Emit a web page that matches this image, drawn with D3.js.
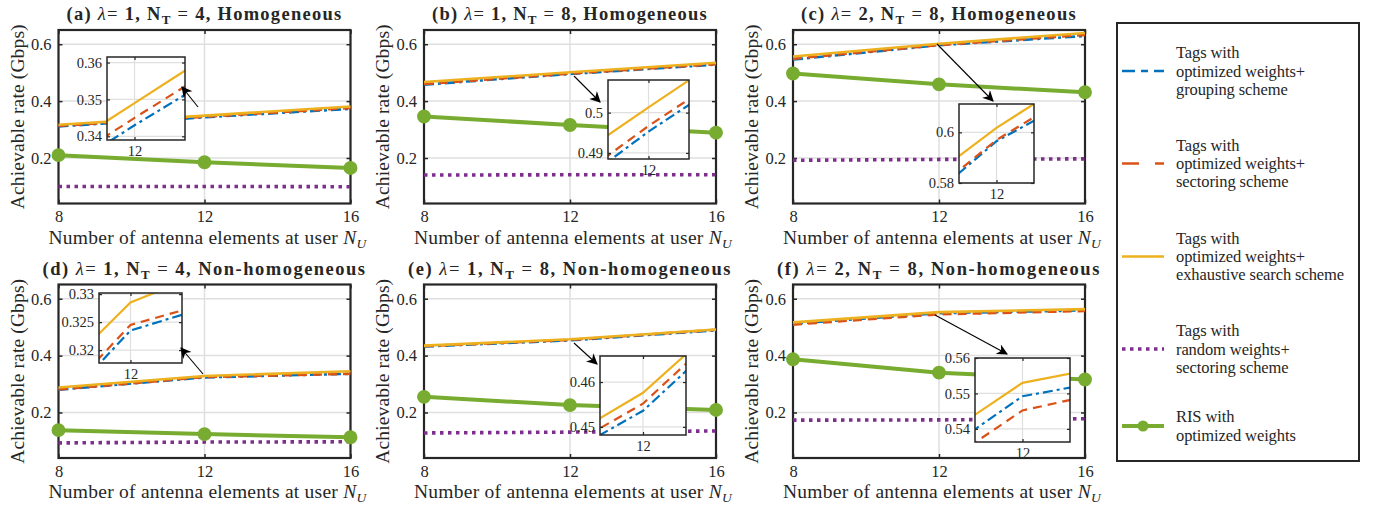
<!DOCTYPE html>
<html>
<head>
<meta charset="utf-8">
<script src="https://cdn.jsdelivr.net/npm/d3@7/dist/d3.min.js"></script>
<style>
  body { margin: 0; background: #fff; }
  svg { display: block; }
  text { font-family: "Liberation Serif", "DejaVu Serif", serif; fill: #262626; }
</style>
</head>
<body>
<div id="chart"></div>
<script>
// Valeurs (N_U = 8, 12, 16), une ligne par sous-figure (a)..(f)
const nU = [8, 12, 16];
const panelLetters = ["a", "b", "c", "d", "e", "f"];
const lambdas = [1, 1, 2, 1, 1, 2];
const nTags = [4, 8, 8, 4, 8, 8];
const scenarios = ["Homogeneous", "Homogeneous", "Homogeneous", "Non-homogeneous", "Non-homogeneous", "Non-homogeneous"];

const grouping = [
  [0.311, 0.343, 0.373],
  [0.458, 0.4953, 0.5285],
  [0.546, 0.5965, 0.629],
  [0.280, 0.3235, 0.336],
  [0.432, 0.4536, 0.489],
  [0.512, 0.5492, 0.559]
];
const sectoring = [
  [0.313, 0.345, 0.376],
  [0.460, 0.4967, 0.530],
  [0.549, 0.597, 0.633],
  [0.281, 0.3245, 0.336],
  [0.4332, 0.4552, 0.4908],
  [0.509, 0.5452, 0.557]
];
const exhaustive = [
  [0.317, 0.349, 0.381],
  [0.467, 0.5013, 0.535],
  [0.557, 0.6018, 0.6395],
  [0.288, 0.3285, 0.345],
  [0.435, 0.4576, 0.492],
  [0.517, 0.553, 0.5635]
];
const randomWeights = [
  [0.100, 0.100, 0.099],
  [0.140, 0.141, 0.141],
  [0.192, 0.195, 0.197],
  [0.093, 0.096, 0.097],
  [0.128, 0.131, 0.135],
  [0.173, 0.174, 0.178]
];
const risWeights = [
  [0.210, 0.185, 0.165],
  [0.346, 0.316, 0.289],
  [0.497, 0.459, 0.431],
  [0.138, 0.124, 0.113],
  [0.255, 0.226, 0.209],
  [0.387, 0.340, 0.316]
];

const xTicks = [8, 12, 16];
const yTicks = [0.2, 0.4, 0.6];
const yDomain = [0.04, 0.65];

// Zooms (encarts)
const insetXDomains = [[11.4, 13.1], [11.2, 12.8], [11, 13], [11.45, 12.9], [11, 13], [11, 13]];
const insetYDomains = [[0.339, 0.3615], [0.4885, 0.5081], [0.58, 0.6112], [0.3177, 0.3302], [0.4482, 0.4658], [0.5363, 0.56]];
const insetYTicks = [[0.34, 0.35, 0.36], [0.49, 0.5], [0.58, 0.6], [0.32, 0.325, 0.33], [0.45, 0.46], [0.54, 0.55, 0.56]];
const insetXTicks = [12];

const legendLabels = [
  ["Tags with", "optimized weights+", "grouping scheme"],
  ["Tags with", "optimized weights+", "sectoring scheme"],
  ["Tags with", "optimized weights+", "exhaustive search scheme"],
  ["Tags with", "random weights+", "sectoring scheme"],
  ["RIS with", "optimized weights"]
];

// Mise en page
const width = 1375;
const height = 510;
const colLeft = [58.5, 424, 793];
const rowTop = [30, 284.5];
const plotW = 292;
const plotH = 173.5;
// [x, y, largeur, hauteur] de chaque encart
const insetBoxes = [
  [107, 57, 78, 83],
  [608, 80, 81, 79],
  [959, 104, 75, 79],
  [99, 293, 83, 70],
  [600, 356, 86, 79],
  [975, 358, 95, 84]
];
// flèches : [x départ, y départ, x pointe, y pointe]
const arrows = [
  [198, 107, 182, 87],
  [574, 76, 600, 102],
  [937, 44, 993, 101],
  [203, 374, 181, 348],
  [574, 343, 597, 364],
  [935, 315, 1007, 354]
];

const series = [
  { values: grouping, color: "#0072BD", dash: "10,4,3,4", w: 2.6 },
  { values: sectoring, color: "#D95319", dash: "9,6", w: 2.6 },
  { values: exhaustive, color: "#EDB120", dash: null, w: 2.6 },
  { values: randomWeights, color: "#7E2F8E", dash: "3.5,4.5", w: 3.6 },
  { values: risWeights, color: "#77AC30", dash: null, w: 4, marker: true }
];

const axisColor = "#262626";
const gridColor = "#dfdfdf";

// Ajuste l'espacement des lettres pour obtenir la largeur voulue (police LaTeX plus large)
function fitWidth(sel, target) {
  const node = sel.node();
  const w = node.getComputedTextLength();
  const n = node.textContent.length;
  const ls = Math.max(-0.6, Math.min(2.5, (target - w) / n));
  sel.attr("letter-spacing", ls);
}

const svg = d3.select("#chart")
  .append("svg")
  .attr("width", width)
  .attr("height", height)
  .attr("font-family", "Liberation Serif, serif");

const defs = svg.append("defs");
defs.append("marker")
  .attr("id", "arrowhead")
  .attr("viewBox", "0 0 10 10")
  .attr("refX", 9)
  .attr("refY", 5)
  .attr("markerUnits", "userSpaceOnUse")
  .attr("markerWidth", 13)
  .attr("markerHeight", 11)
  .attr("orient", "auto")
  .append("path")
  .attr("d", "M0,0 L10,5 L0,10 L3,5 Z")
  .attr("fill", "#000");

panelLetters.forEach((letter, i) => {
  const col = i % 3;
  const row = Math.floor(i / 3);
  const x0 = colLeft[col];
  const y0 = rowTop[row];

  const x = d3.scaleLinear().domain([8, 16]).range([x0, x0 + plotW]);
  const y = d3.scaleLinear().domain(yDomain).range([y0 + plotH, y0]);

  const g = svg.append("g");

  // grille
  g.selectAll(".gx").data(xTicks).enter().append("line")
    .attr("x1", d => x(d)).attr("x2", d => x(d))
    .attr("y1", y0).attr("y2", y0 + plotH)
    .attr("stroke", gridColor).attr("stroke-width", 1.5);
  g.selectAll(".gy").data(yTicks).enter().append("line")
    .attr("x1", x0).attr("x2", x0 + plotW)
    .attr("y1", d => y(d)).attr("y2", d => y(d))
    .attr("stroke", gridColor).attr("stroke-width", 1.5);

  // cadre + graduations
  g.append("rect")
    .attr("x", x0).attr("y", y0).attr("width", plotW).attr("height", plotH)
    .attr("fill", "none").attr("stroke", axisColor).attr("stroke-width", 2.2);

  const axB = d3.axisBottom(x).tickValues(xTicks).tickSize(-4).tickPadding(7).tickFormat(d3.format("d"));
  const axT = d3.axisTop(x).tickValues(xTicks).tickSize(-4).tickFormat("");
  const axL = d3.axisLeft(y).tickValues(yTicks).tickSize(-4).tickPadding(7).tickFormat(d3.format(".1f"));
  const axR = d3.axisRight(y).tickValues(yTicks).tickSize(-4).tickFormat("");
  [[axB, `translate(0,${y0 + plotH})`], [axT, `translate(0,${y0})`],
   [axL, `translate(${x0},0)`], [axR, `translate(${x0 + plotW},0)`]].forEach(([ax, tr]) => {
    const a = g.append("g").attr("transform", tr).call(ax);
    a.attr("font-family", null);
    a.select(".domain").remove();
    a.selectAll("line").attr("stroke", axisColor).attr("stroke-width", 1.5);
    a.selectAll("text").attr("font-size", 16.5).attr("fill", axisColor);
  });

  // courbes
  const line = d3.line().x((d, k) => x(nU[k])).y(d => y(d));
  series.forEach(s => {
    g.append("path")
      .attr("d", line(s.values[i]))
      .attr("fill", "none")
      .attr("stroke", s.color)
      .attr("stroke-width", s.w)
      .attr("stroke-dasharray", s.dash)
      .attr("stroke-linejoin", "round");
    if (s.marker) {
      g.selectAll(".mk").data(s.values[i]).enter().append("circle")
        .attr("cx", (d, k) => x(nU[k])).attr("cy", d => y(d))
        .attr("r", 6.2)
        .attr("fill", s.color)
        .attr("stroke", s.color).attr("stroke-width", 1.5);
    }
  });

  // titre
  const title = g.append("text")
    .attr("x", x0 + plotW / 2)
    .attr("y", y0 - 10)
    .attr("text-anchor", "middle")
    .attr("font-size", 18.5)
    .attr("fill", "#000");
  title.append("tspan").attr("font-weight", "bold").text(`(${letter}) `);
  title.append("tspan").attr("font-style", "italic").text("λ");
  title.append("tspan").text("= ");
  title.append("tspan").attr("font-weight", "bold").text(`${lambdas[i]}, `);
  title.append("tspan").attr("font-weight", "bold").text("N");
  title.append("tspan").attr("font-weight", "bold").attr("font-size", 13).attr("dy", 4).text("T");
  title.append("tspan").attr("dy", -4).text(" = ");
  title.append("tspan").attr("font-weight", "bold").text(`${nTags[i]}, ${scenarios[i]}`);
  fitWidth(title, row === 0 ? 276 : 324);

  // titres des axes
  const xl = g.append("text")
    .attr("x", x0 + plotW / 2 + 3)
    .attr("y", y0 + plotH + 40)
    .attr("text-anchor", "middle")
    .attr("font-size", 19.5);
  xl.append("tspan").text("Number of antenna elements at user ");
  xl.append("tspan").attr("font-style", "italic").text("N");
  xl.append("tspan").attr("font-style", "italic").attr("font-size", 13.5).attr("dy", 4).text("U");
  fitWidth(xl, 318);

  const yl = g.append("text")
    .attr("transform", `translate(${x0 - 35},${y0 + plotH / 2}) rotate(-90)`)
    .attr("text-anchor", "middle")
    .attr("font-size", 19.5)
    .text("Achievable rate (Gbps)");
  fitWidth(yl, 185);

  // encart de zoom
  const [bx, by, bw, bh] = insetBoxes[i];
  const xi = d3.scaleLinear().domain(insetXDomains[i]).range([bx, bx + bw]);
  const yi = d3.scaleLinear().domain(insetYDomains[i]).range([by + bh, by]);
  const gi = g.append("g");
  gi.append("rect").attr("x", bx).attr("y", by).attr("width", bw).attr("height", bh).attr("fill", "#fff");
  gi.selectAll(".igx").data(insetXTicks).enter().append("line")
    .attr("x1", d => xi(d)).attr("x2", d => xi(d)).attr("y1", by).attr("y2", by + bh)
    .attr("stroke", gridColor).attr("stroke-width", 1.2);
  gi.selectAll(".igy").data(insetYTicks[i]).enter().append("line")
    .attr("x1", bx).attr("x2", bx + bw).attr("y1", d => yi(d)).attr("y2", d => yi(d))
    .attr("stroke", gridColor).attr("stroke-width", 1.2);

  defs.append("clipPath").attr("id", `clip-${letter}`)
    .append("rect").attr("x", bx).attr("y", by).attr("width", bw).attr("height", bh);
  const lineI = d3.line().x((d, k) => xi(nU[k])).y(d => yi(d));
  series.slice(0, 3).forEach(s => {
    gi.append("path")
      .attr("clip-path", `url(#clip-${letter})`)
      .attr("d", lineI(s.values[i]))
      .attr("fill", "none")
      .attr("stroke", s.color)
      .attr("stroke-width", 2.2)
      .attr("stroke-dasharray", s.dash);
  });
  gi.append("rect").attr("x", bx).attr("y", by).attr("width", bw).attr("height", bh)
    .attr("fill", "none").attr("stroke", axisColor).attr("stroke-width", 1.5);

  const iaxL = d3.axisLeft(yi).tickValues(insetYTicks[i]).tickSize(-3).tickPadding(5).tickFormat(d => String(d));
  const iaxR = d3.axisRight(yi).tickValues(insetYTicks[i]).tickSize(-3).tickFormat("");
  const iaxB = d3.axisBottom(xi).tickValues(insetXTicks).tickSize(-3).tickPadding(6).tickFormat(d3.format("d"));
  const iaxT = d3.axisTop(xi).tickValues(insetXTicks).tickSize(-3).tickFormat("");
  [[iaxL, `translate(${bx},0)`], [iaxR, `translate(${bx + bw},0)`],
   [iaxB, `translate(0,${by + bh})`], [iaxT, `translate(0,${by})`]].forEach(([ax, tr]) => {
    const a = gi.append("g").attr("transform", tr).call(ax);
    a.attr("font-family", null);
    a.select(".domain").remove();
    a.selectAll("line").attr("stroke", axisColor).attr("stroke-width", 1.2);
    a.selectAll("text").attr("font-size", 14.5).attr("fill", axisColor);
  });

  // flèche
  const [ax1, ay1, ax2, ay2] = arrows[i];
  g.append("line")
    .attr("x1", ax1).attr("y1", ay1).attr("x2", ax2).attr("y2", ay2)
    .attr("stroke", "#000").attr("stroke-width", 1.1)
    .attr("marker-end", "url(#arrowhead)");
});

// Légende
const legendBox = { x: 1117, y: 23, w: 242, h: 438 };
const legendG = svg.append("g");
legendG.append("rect")
  .attr("x", legendBox.x).attr("y", legendBox.y)
  .attr("width", legendBox.w).attr("height", legendBox.h)
  .attr("fill", "#fff").attr("stroke", axisColor).attr("stroke-width", 2);

const entryCenters = [71, 163.5, 256.5, 349, 426];
const lineGap = 18.4;
const legendTexts = [];
legendLabels.forEach((lines, k) => {
  const s = series[k];
  const cy = entryCenters[k];
  legendG.append("line")
    .attr("x1", 1122).attr("x2", 1164)
    .attr("y1", cy).attr("y2", cy)
    .attr("stroke", s.color)
    .attr("stroke-width", s.w)
    .attr("stroke-dasharray", k === 0 ? "13,6,7,6" : k === 1 ? "17,16" : s.dash);
  if (s.marker) {
    legendG.append("circle").attr("cx", 1143).attr("cy", cy).attr("r", 5.5).attr("fill", s.color);
  }
  const first = cy - (lines.length - 1) * lineGap / 2 + 5.5;
  lines.forEach((ln, j) => {
    legendTexts.push(legendG.append("text")
      .attr("x", 1176)
      .attr("y", first + j * lineGap)
      .attr("font-size", 16.5)
      .text(ln));
  });
});
// même espacement pour toute la légende, calé sur la ligne la plus longue
const longest = legendTexts.find(t => t.text() === "exhaustive search scheme");
fitWidth(longest, 168);
const legendSpacing = longest.attr("letter-spacing");
legendTexts.forEach(t => t.attr("letter-spacing", legendSpacing));
</script>
</body>
</html>
